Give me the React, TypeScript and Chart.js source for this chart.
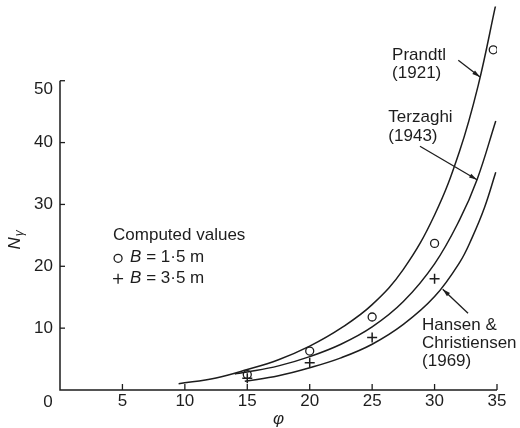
import React, { useEffect, useRef } from "react";
import { Chart, registerables } from "chart.js";

Chart.register(...registerables);

// ---- data ----
const phiTicks = [5, 10, 15, 20, 25, 30, 35];
const nTicks = [10, 20, 30, 40, 50];

const prandtlPhi = [9.5, 12.5, 15, 17.5, 20, 22.5, 25, 27.5, 30, 32, 33.5, 34.9];
const prandtlN = [1.0, 1.95, 3.3, 4.9, 7.1, 10.0, 13.8, 19.5, 28.3, 38.6, 49.3, 62.3];

const terzaghiPhi = [14.0, 15, 17.5, 20, 22.5, 25, 27.5, 30, 32, 33.4, 34.9];
const terzaghiN = [2.6, 2.9, 3.9, 5.4, 7.4, 10.2, 14.3, 20.4, 27.5, 34.0, 43.5];

const hansenPhi = [14.8, 17.5, 20, 22.5, 25, 27.5, 30, 32, 33, 34, 34.9];
const hansenN = [1.4, 2.3, 3.6, 5.2, 7.4, 10.6, 15.1, 20.6, 24.6, 29.5, 35.2];

const circlePhi = [15, 20, 25, 30, 34.7];
const circleN = [2.5, 6.3, 11.8, 23.7, 55.0];

const plusPhi = [15, 20, 25, 30];
const plusN = [1.9, 4.4, 8.5, 18.0];

const prandtlLabel = ["Prandtl", "(1921)"];
const terzaghiLabel = ["Terzaghi", "(1943)"];
const hansenLabel = ["Hansen &", "Christiensen", "(1969)"];
const legendTitle = "Computed values";
const legendValues = ["1·5 m", "3·5 m"];

const FONT = '"Liberation Sans", Arial, Helvetica, sans-serif';
const INK = "#1d1d1d";

const zip = (xs: number[], ys: number[]) => xs.map((v, i) => ({ x: v, y: ys[i] }));

function arrow(ctx: CanvasRenderingContext2D, x1: number, y1: number, x2: number, y2: number) {
  ctx.beginPath();
  ctx.moveTo(x1, y1);
  ctx.lineTo(x2, y2);
  ctx.stroke();
  const a = Math.atan2(y2 - y1, x2 - x1);
  const L = 8, W = 2.2;
  const c = Math.cos(a), s = Math.sin(a);
  ctx.beginPath();
  ctx.moveTo(x2, y2);
  ctx.lineTo(x2 - L * c + W * s, y2 - L * s - W * c);
  ctx.lineTo(x2 - L * c - W * s, y2 - L * s + W * c);
  ctx.closePath();
  ctx.fill();
}

const decorPlugin = {
  id: "decor",
  afterDraw(chart: any) {
    const { ctx } = chart;
    const xs = chart.scales.x;
    const ys = chart.scales.y;
    const X = (v: number) => xs.getPixelForValue(v);
    const Y = (v: number) => ys.getPixelForValue(v);
    ctx.save();
    ctx.strokeStyle = INK;
    ctx.fillStyle = INK;
    ctx.lineCap = "butt";

    // axes
    ctx.lineWidth = 1.5;
    ctx.beginPath();
    ctx.moveTo(X(0), Y(50));
    ctx.lineTo(X(0), Y(0));
    ctx.lineTo(X(35), Y(0));
    ctx.stroke();

    // inward tick marks
    ctx.lineWidth = 1.3;
    phiTicks.forEach((v) => {
      ctx.beginPath();
      ctx.moveTo(X(v), Y(0));
      ctx.lineTo(X(v), Y(0) - 6);
      ctx.stroke();
    });
    nTicks.forEach((v) => {
      ctx.beginPath();
      ctx.moveTo(X(0), Y(v));
      ctx.lineTo(X(0) + 5, Y(v));
      ctx.stroke();
    });

    // origin label and the top label, which sits just under its bracket
    ctx.font = `17px ${FONT}`;
    ctx.textAlign = "center";
    ctx.textBaseline = "middle";
    ctx.fillText("0", X(0) - 12, Y(0) + 12);
    const top = nTicks[nTicks.length - 1];
    ctx.textAlign = "right";
    ctx.fillText(String(top), X(0) - 7, Y(top) + 9);

    // y axis title N_gamma (rotated)
    ctx.save();
    ctx.translate(X(0) - 46, Y(24.2));
    ctx.rotate(-Math.PI / 2);
    ctx.textAlign = "left";
    ctx.textBaseline = "alphabetic";
    ctx.font = `italic 17px ${FONT}`;
    const wN = ctx.measureText("N").width;
    ctx.font = `italic 12px ${FONT}`;
    const wG = ctx.measureText("γ").width;
    const start = -(wN + wG) / 2;
    ctx.font = `italic 17px ${FONT}`;
    ctx.fillText("N", start, 6);
    ctx.font = `italic 12px ${FONT}`;
    ctx.fillText("γ", start + wN + 1, 9);
    ctx.restore();

    // curve labels
    ctx.font = `17px ${FONT}`;
    ctx.textAlign = "left";
    ctx.textBaseline = "middle";
    const block = (lines: string[], phi: number, n: number, step: number) => {
      lines.forEach((t, i) => ctx.fillText(t, X(phi), Y(n) + i * step));
    };
    block(prandtlLabel, 26.6, 54.1, 18);
    block(terzaghiLabel, 26.3, 44.1, 19);
    block(hansenLabel, 29.0, 10.5, 18);

    // arrows
    ctx.lineWidth = 1.3;
    arrow(ctx, X(31.9), Y(53.3), X(33.64), Y(50.6));
    arrow(ctx, X(28.83), Y(39.4), X(33.4), Y(34.0));
    arrow(ctx, X(32.68), Y(12.4), X(30.65), Y(16.3));

    // legend block
    const lx = X(4.25);
    ctx.fillText(legendTitle, lx, Y(25.0));
    const rows = [Y(21.45), Y(18.0)];
    rows.forEach((ry, i) => {
      const mx = lx + 5;
      ctx.lineWidth = 1.3;
      if (i === 0) {
        ctx.beginPath();
        ctx.arc(mx, ry + 1, 4, 0, Math.PI * 2);
        ctx.stroke();
      } else {
        ctx.beginPath();
        ctx.moveTo(mx - 5, ry);
        ctx.lineTo(mx + 5, ry);
        ctx.moveTo(mx, ry - 5);
        ctx.lineTo(mx, ry + 5);
        ctx.stroke();
      }
      let tx = lx + 17;
      ctx.font = `italic 17px ${FONT}`;
      ctx.fillText("B", tx, ry);
      tx += ctx.measureText("B").width;
      ctx.font = `17px ${FONT}`;
      ctx.fillText(" = " + legendValues[i], tx, ry);
    });

    ctx.restore();
  },
};

export default function App() {
  const ref = useRef<HTMLCanvasElement | null>(null);

  useEffect(() => {
    document.body.style.margin = "0";
    const canvas = ref.current;
    if (!canvas) return;
    const lineDs = (data: number[], xsArr: number[]) => ({
      data: zip(xsArr, data),
      showLine: true,
      borderColor: INK,
      borderWidth: 1.5,
      pointRadius: 0,
      pointHoverRadius: 0,
      fill: false,
      tension: 0.4,
    });
    const topTick = nTicks[nTicks.length - 1];
    const chart = new Chart(canvas, {
      type: "scatter",
      data: {
        datasets: [
          { label: "Prandtl (1921)", ...lineDs(prandtlN, prandtlPhi) },
          { label: "Terzaghi (1943)", ...lineDs(terzaghiN, terzaghiPhi) },
          { label: "Hansen & Christiensen (1969)", ...lineDs(hansenN, hansenPhi) },
          {
            label: "B = 1·5 m",
            data: zip(circlePhi, circleN),
            pointStyle: "circle",
            pointRadius: 4,
            borderColor: INK,
            backgroundColor: "rgba(255,255,255,0)",
            borderWidth: 1.3,
            showLine: false,
          },
          {
            label: "B = 3·5 m",
            data: zip(plusPhi, plusN),
            pointStyle: "cross",
            pointRadius: 5,
            borderColor: INK,
            borderWidth: 1.5,
            showLine: false,
          },
        ],
      },
      options: {
        responsive: false,
        animation: false,
        events: [],
        layout: { padding: { left: 0, right: 23, top: 6, bottom: 0 } },
        plugins: { legend: { display: false }, tooltip: { enabled: false } },
        scales: {
          x: {
            type: "linear",
            min: 0,
            max: 35,
            afterBuildTicks: (s: any) => {
              s.ticks = phiTicks.map((v) => ({ value: v }));
            },
            afterFit: (s: any) => {
              s.height = 38;
              s.paddingLeft = 0;
              s.paddingRight = 0;
            },
            grid: { display: false, drawTicks: false },
            border: { display: false },
            ticks: { color: INK, padding: 1, font: { family: FONT, size: 17 }, maxRotation: 0 },
            title: {
              display: true,
              text: "φ",
              color: INK,
              padding: 0,
              font: { family: FONT, size: 17, style: "italic", lineHeight: 1 },
            },
          },
          y: {
            type: "linear",
            min: 0,
            max: 62,
            afterBuildTicks: (s: any) => {
              s.ticks = nTicks.map((v) => ({ value: v }));
            },
            afterFit: (s: any) => {
              s.width = 60;
              s.paddingTop = 0;
              s.paddingBottom = 0;
            },
            grid: { display: false, drawTicks: false },
            border: { display: false },
            ticks: {
              color: INK,
              padding: 7,
              font: { family: FONT, size: 17 },
              callback: (v: any) => (v === topTick ? "" : String(v)),
            },
          },
        },
      },
      plugins: [decorPlugin],
    });
    return () => chart.destroy();
  }, []);

  return (
    <div style={{ width: 520, height: 428, background: "#fff" }}>
      <canvas ref={ref} width={520} height={428} style={{ display: "block" }} />
    </div>
  );
}
